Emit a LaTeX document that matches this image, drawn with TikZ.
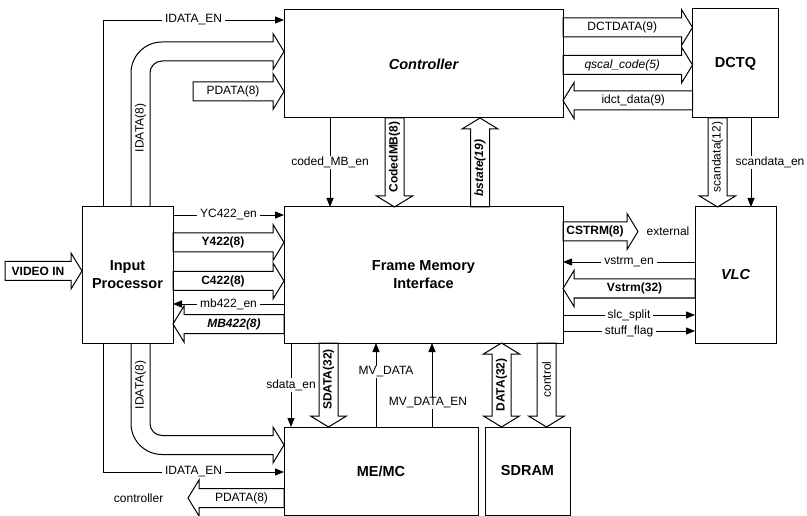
\documentclass[tikz,border=0pt]{standalone}
\usepackage{fontspec}
\setmainfont{Liberation Sans}
\usetikzlibrary{positioning, arrows.meta, calc}

\newcommand{\busw}{9.5}
\newcommand{\bush}{18}
\newcommand{\busl}{11}

% wide bus arrow from #2 to #3, label #4
\newcommand{\busline}[4][]{%
  \draw[bus] let \p1=(#2), \p2=(#3),
      \n1={veclen(\x2-\x1,\y2-\y1)}, \n2={atan2(\y2-\y1,\x2-\x1)} in
    [shift={(\p1)}, rotate=\n2]
    (0,\busw) -- ({\n1-\busl},\busw) -- ({\n1-\busl},\bush) -- (\n1,0)
    -- ({\n1-\busl},-\bush) -- ({\n1-\busl},-\busw) -- (0,-\busw) -- cycle
    ({(\n1-\busl)/2},0) node[lbl, #1] {#4};
}
\newcommand{\busboth}[4][]{%
  \draw[bus] let \p1=(#2), \p2=(#3),
      \n1={veclen(\x2-\x1,\y2-\y1)}, \n2={atan2(\y2-\y1,\x2-\x1)} in
    [shift={(\p1)}, rotate=\n2]
    (0,0) -- (\busl,\bush) -- (\busl,\busw) -- ({\n1-\busl},\busw) -- ({\n1-\busl},\bush) -- (\n1,0)
    -- ({\n1-\busl},-\bush) -- ({\n1-\busl},-\busw) -- (\busl,-\busw) -- (\busl,-\bush) -- cycle
    ({\n1/2},0) node[lbl, #1] {#4};
}

\begin{document}
\begin{tikzpicture}[
    x=1pt, y=1pt,
    >={Triangle[length=9pt, width=7pt]},
    node distance=89pt,
    blk/.style={draw, line width=1pt, outer sep=0pt, align=center, font=\fontsize{14.5}{18}\selectfont\bfseries},
    bus/.style={line width=1pt, line join=miter},
    lbl/.style={font=\fontsize{12}{14}\selectfont, inner sep=1.5pt},
    heavy/.style={font=\fontsize{12}{14}\selectfont\bfseries},
    tag/.style={lbl, fill=white, inner xsep=3pt, inner ysep=1pt},
    sig/.style={->, line width=0.9pt}
]
\useasboundingbox (0,0) rectangle (807,-516);

\node[blk, minimum width=279pt, minimum height=108pt] (ctrl) at (423.5,-64) {\itshape Controller};
\node[blk, minimum width=279pt, minimum height=136pt, below=of ctrl] (fmi) {Frame Memory\\Interface};
\node[blk, minimum width=91pt, minimum height=136pt, left=111pt of fmi] (ip) {Input\\Processor};
\node[blk, minimum width=81pt, minimum height=136pt, right=132pt of fmi] (vlc) {\itshape VLC};
\node[blk, minimum width=86pt, minimum height=109pt, above=of vlc] (dctq) {DCTQ};
\node[blk, minimum width=194pt, minimum height=88pt, anchor=north west] (memc) at (284,-427) {ME/MC};
\node[blk, minimum width=85pt, minimum height=88pt, right=7pt of memc] (sdram) {SDRAM};

\coordinate (pdsrc) at (193,-91.5);
\coordinate (vin) at (5,-271);
\coordinate (ext) at (638,-231.5);
\coordinate (pdout) at (188,-498);

% input processor to controller
\draw[sig] ([xshift=21pt]ip.north west) |- node[tag, pos=0.75] {IDATA\_EN} (ctrl.west |- 0,-20);
\draw[bus] (ip.north -| 131,0) -- (131,-73) arc[start angle=180, end angle=90, radius=31]
    -- (273,-42) -- (273,-33.5) -- (ctrl.west |- 0,-51.5) -- (273,-69.5) -- (273,-61)
    -- (162,-61) arc[start angle=90, end angle=180, radius=12] -- (ip.north -| 150,0);
\node[lbl, rotate=90] (idtop) at (140.5,-128) {IDATA(8)};
\busline{pdsrc}{ctrl.west |- 0,-91.5}{PDATA(8)};

% controller and frame memory
\draw[sig] (ctrl.south -| 330,0) -- node[tag] {coded\_MB\_en} (fmi.north -| 330,0);
\busline[heavy, rotate=90]{ctrl.south -| 394.5,0}{fmi.north -| 394.5,0}{CodedMB(8)};
\busline[heavy, rotate=90, font=\fontsize{12}{14}\selectfont\bfseries\itshape]{fmi.north -| 480,0}{ctrl.south -| 480,0}{bstate(19)};

% controller and dctq
\busline{ctrl.east |- 0,-27.5}{dctq.west |- 0,-27.5}{DCTDATA(9)};
\busline[font=\fontsize{12}{14}\selectfont\itshape]{ctrl.east |- 0,-65}{dctq.west |- 0,-65}{qscal\_code(5)};
\busline{dctq.west |- 0,-100.5}{ctrl.east |- 0,-100.5}{idct\_data(9)};

% dctq to vlc
\busline[rotate=90]{dctq.south -| 717.5,0}{vlc.north -| 717.5,0}{scandata(12)};
\draw[sig] (dctq.south -| 751,0) -- node[tag, xshift=19pt] {scandata\_en} (vlc.north -| 751,0);

% input processor and frame memory
\busline[heavy]{vin}{ip.west |- 0,-271}{VIDEO IN};
\draw[sig] (ip.east |- 0,-215) -- node[tag] {YC422\_en} (fmi.west |- 0,-215);
\busline[heavy]{ip.east |- 0,-242.5}{fmi.west |- 0,-242.5}{Y422(8)};
\busline[heavy]{ip.east |- 0,-281}{fmi.west |- 0,-281}{C422(8)};
\draw[sig] (fmi.west |- 0,-304) -- node[tag] {mb422\_en} (ip.east |- 0,-304);
\busline[font=\fontsize{12}{14}\selectfont\bfseries\itshape]{fmi.west |- 0,-324}{ip.east |- 0,-324}{MB422(8)};

% frame memory and vlc
\busline[heavy]{fmi.east |- 0,-231.5}{ext}{CSTRM(8)};
\node[lbl, right=7pt of ext] (extlbl) {external};
\draw[sig] (vlc.west |- 0,-262) -- node[tag] {vstrm\_en} (fmi.east |- 0,-262);
\busline[heavy]{vlc.west |- 0,-288.5}{fmi.east |- 0,-288.5}{Vstrm(32)};
\draw[sig] (fmi.east |- 0,-315) -- node[tag] {slc\_split} (vlc.west |- 0,-315);
\draw[sig] (fmi.east |- 0,-331) -- node[tag] {stuff\_flag} (vlc.west |- 0,-331);

% input processor to me/mc
\draw[bus] (ip.south -| 131,0) -- (131,-423.5) arc[start angle=180, end angle=270, radius=31]
    -- (273,-454.5) -- (273,-463) -- (memc.west |- 0,-445) -- (273,-427) -- (273,-435.5)
    -- (162,-435.5) arc[start angle=270, end angle=180, radius=12] -- (ip.south -| 150,0);
\node[lbl, rotate=90] (idbot) at (140.5,-385) {IDATA(8)};
\draw[sig] ([xshift=21pt]ip.south west) |- node[tag, pos=0.75] {IDATA\_EN} (memc.west |- 0,-472);
\busline{memc.west |- 0,-498}{pdout}{PDATA(8)};
\node[lbl, left=23pt of pdout] (ctllbl) {controller};

% frame memory to me/mc and sdram
\draw[sig] (fmi.south -| 291,0) -- node[tag] {sdata\_en} (memc.north -| 291,0);
\busline[heavy, rotate=90]{fmi.south -| 328.5,0}{memc.north -| 328.5,0}{SDATA(32)};
\draw[sig] (memc.north -| 376,0) -- node[tag, pos=0.655, xshift=10pt] {MV\_DATA} (fmi.south -| 376,0);
\draw[sig] (memc.north -| 432,0) -- node[tag, pos=0.286, xshift=-4pt] {MV\_DATA\_EN} (fmi.south -| 432,0);
\busboth[heavy, rotate=90]{fmi.south -| 501.5,0}{sdram.north -| 501.5,0}{DATA(32)};
\busline[rotate=90]{fmi.south -| 546.5,0}{sdram.north -| 546.5,0}{control};

\end{tikzpicture}
\end{document}
